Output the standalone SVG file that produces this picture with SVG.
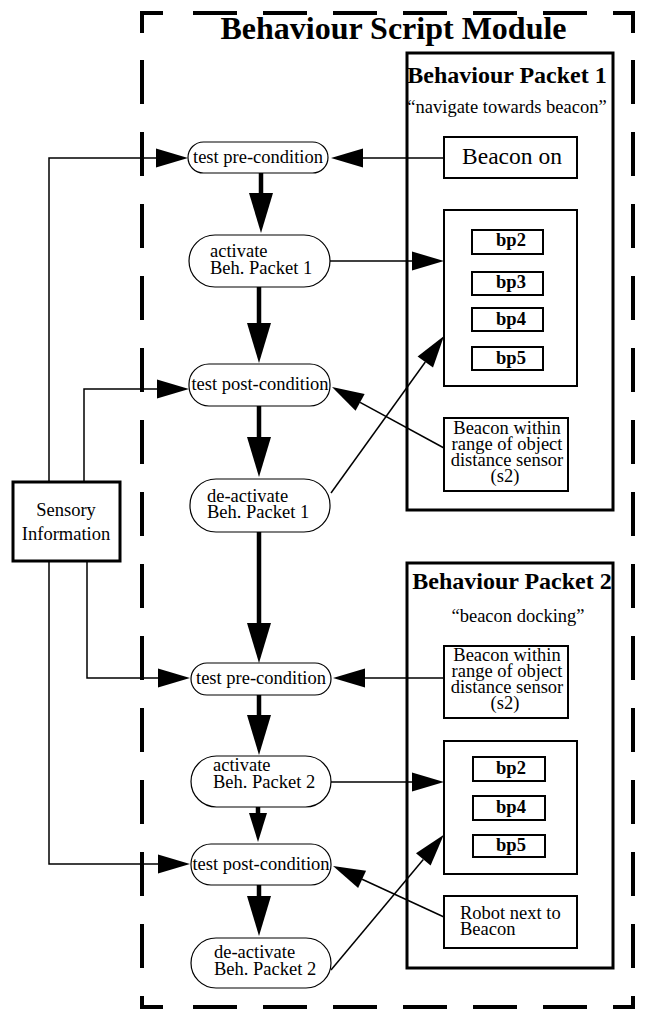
<svg xmlns="http://www.w3.org/2000/svg" width="646" height="1017" viewBox="0 0 646 1017">
<style>
text{font-family:"Liberation Serif","Times New Roman",serif;fill:#000}
.t{font-size:18.5px}
.c{text-anchor:middle}
.b{font-weight:bold}
.frame{fill:none;stroke:#000;stroke-width:4}
.vd{stroke-dasharray:44 28}
.hd{stroke-dasharray:44 26}
.pk{fill:none;stroke:#000;stroke-width:3}
.bx{fill:#fff;stroke:#000;stroke-width:2}
.nd{fill:#fff;stroke:#000;stroke-width:1.2}
.thin{fill:none;stroke:#000;stroke-width:1.5}
.thick{fill:none;stroke:#000;stroke-width:4.5}
</style>
<defs>
<marker id="ah" markerUnits="userSpaceOnUse" markerWidth="32" markerHeight="19" viewBox="0 0 32 19" refX="0" refY="9.5" orient="auto" overflow="visible"><path d="M0,0 L32,9.5 L0,19 z" fill="#000"/></marker>
<marker id="ahT" markerUnits="userSpaceOnUse" markerWidth="40" markerHeight="24" viewBox="0 0 40 24" refX="0" refY="12" orient="auto" overflow="visible"><path d="M0,0 L40,12 L0,24 z" fill="#000"/></marker>
<marker id="ahS" markerUnits="userSpaceOnUse" markerWidth="29" markerHeight="18" viewBox="0 0 29 18" refX="0" refY="9" orient="auto" overflow="visible"><path d="M0,0 L29,9 L0,18 z" fill="#000"/></marker>
</defs>
<rect width="646" height="1017" fill="#fff"/>
<g id="module">
<path class="frame vd" d="M142,60 V985"/>
<path class="frame vd" d="M633,60 V985"/>
<path class="frame hd" d="M193,13 H590"/>
<path class="frame hd" d="M193,1007 H590"/>
<path class="frame" d="M163,13 H142 V33"/>
<path class="frame" d="M613,13 H633 V33"/>
<path class="frame" d="M142,996 V1007 H163"/>
<path class="frame" d="M633,996 V1007 H613"/>
<text x="393.5" y="39" class="c b" font-size="32">Behaviour Script Module</text>
</g>
<g id="packet1">
<rect class="pk" x="407" y="53" width="206" height="457"/>
<text x="507" y="83" class="c b" font-size="24">Behaviour Packet 1</text>
<text x="507" y="113" class="t c">“navigate towards beacon”</text>
</g>
<g id="beacon-on">
<rect class="bx" x="444" y="137" width="133" height="41"/>
<text x="512" y="164" class="c" font-size="23.5">Beacon on</text>
</g>
<g id="bp-set1">
<rect class="bx" x="444" y="210" width="133" height="176"/>
<rect class="bx" x="472" y="230" width="71" height="24"/>
<text x="511" y="246" class="t c b">bp2</text>
<rect class="bx" x="472" y="272" width="71" height="23"/>
<text x="511" y="288" class="t c b">bp3</text>
<rect class="bx" x="472" y="308" width="71" height="23"/>
<text x="511" y="325" class="t c b">bp4</text>
<rect class="bx" x="472" y="347" width="71" height="23"/>
<text x="511" y="364" class="t c b">bp5</text>
</g>
<g id="beacon-range1">
<rect class="bx" x="444" y="418" width="124" height="73"/>
<text x="507" y="434" class="t c">Beacon within</text>
<text x="507" y="450" class="t c">range of object</text>
<text x="507" y="466" class="t c">distance sensor</text>
<text x="505" y="482" class="t c">(s2)</text>
</g>
<g id="packet2">
<rect class="pk" x="407" y="563" width="206" height="405"/>
<text x="512" y="589" class="c b" font-size="24">Behaviour Packet 2</text>
<text x="518" y="622" class="t c">“beacon docking”</text>
</g>
<g id="beacon-range2">
<rect class="bx" x="444" y="646" width="124" height="72"/>
<text x="507" y="661" class="t c">Beacon within</text>
<text x="507" y="677" class="t c">range of object</text>
<text x="507" y="693" class="t c">distance sensor</text>
<text x="505" y="709" class="t c">(s2)</text>
</g>
<g id="bp-set2">
<rect class="bx" x="444" y="741" width="133" height="133"/>
<rect class="bx" x="473" y="757" width="72" height="24"/>
<text x="511" y="774" class="t c b">bp2</text>
<rect class="bx" x="473" y="796" width="72" height="24"/>
<text x="511" y="813" class="t c b">bp4</text>
<rect class="bx" x="473" y="835" width="72" height="22"/>
<text x="511" y="851" class="t c b">bp5</text>
</g>
<g id="robot-next">
<rect class="bx" x="444" y="896" width="133" height="52"/>
<text x="460" y="919" class="t">Robot next to</text>
<text x="460" y="935" class="t">Beacon</text>
</g>
<g id="sensory">
<rect x="13" y="482" width="107" height="79" fill="#fff" stroke="#000" stroke-width="3"/>
<text x="66" y="516" class="t c">Sensory</text>
<text x="66" y="540" class="t c">Information</text>
</g>
<g id="pre1">
<rect class="nd" x="188" y="142" width="140" height="31" rx="15.5"/>
<text x="258" y="163" class="t c">test pre-condition</text>
</g>
<g id="act1">
<rect class="nd" x="189" y="235" width="141" height="52" rx="26"/>
<text x="210" y="257" class="t">activate</text>
<text x="210" y="274" class="t">Beh. Packet 1</text>
</g>
<g id="post1">
<rect class="nd" x="189" y="364" width="141" height="42" rx="20"/>
<text x="260" y="390" class="t c">test post-condition</text>
</g>
<g id="deact1">
<rect class="nd" x="190" y="479" width="140" height="53" rx="26"/>
<text x="207" y="502" class="t">de-activate</text>
<text x="207" y="518" class="t">Beh. Packet 1</text>
</g>
<g id="pre2">
<rect class="nd" x="191" y="663" width="140" height="32" rx="16"/>
<text x="261" y="684" class="t c">test pre-condition</text>
</g>
<g id="act2">
<rect class="nd" x="191" y="756" width="140" height="51" rx="25.5"/>
<text x="213" y="771" class="t">activate</text>
<text x="213" y="788" class="t">Beh. Packet 2</text>
</g>
<g id="post2">
<rect class="nd" x="191" y="844" width="140" height="41" rx="20"/>
<text x="261" y="870" class="t c">test post-condition</text>
</g>
<g id="deact2">
<rect class="nd" x="191" y="938" width="140" height="50" rx="25"/>
<text x="214" y="958" class="t">de-activate</text>
<text x="214" y="975" class="t">Beh. Packet 2</text>
</g>
<g id="connectors">
<path class="thin" d="M49,482 V158 H156" marker-end="url(#ah)"/>
<path class="thin" d="M84,482 V389 H157" marker-end="url(#ah)"/>
<path class="thin" d="M87,561 V678 H158" marker-end="url(#ah)"/>
<path class="thin" d="M49,561 V864 H158" marker-end="url(#ah)"/>
<path class="thin" d="M444,158 H363" marker-end="url(#ah)"/>
<path class="thin" d="M330,261 H412" marker-end="url(#ah)"/>
<path class="thin" d="M444,448 L360.1,402.3" marker-end="url(#ah)"/>
<path class="thin" d="M331,493 L425.3,362" marker-end="url(#ah)"/>
<path class="thin" d="M444,678 H365" marker-end="url(#ah)"/>
<path class="thin" d="M331,782 H412" marker-end="url(#ah)"/>
<path class="thin" d="M444,917 L362.1,879.3" marker-end="url(#ah)"/>
<path class="thin" d="M331,970 L423.3,859.4" marker-end="url(#ah)"/>
<path class="thick" d="M261,173 V193" marker-end="url(#ahT)"/>
<path class="thick" d="M259,287 V323" marker-end="url(#ahT)"/>
<path class="thick" d="M259,406 V437" marker-end="url(#ahT)"/>
<path class="thick" d="M259,532 V623" marker-end="url(#ahT)"/>
<path class="thick" d="M259,695 V715" marker-end="url(#ahT)"/>
<path class="thick" d="M258,807 V813" marker-end="url(#ahS)"/>
<path class="thick" d="M259,885 V896" marker-end="url(#ahT)"/>
</g>
</svg>
